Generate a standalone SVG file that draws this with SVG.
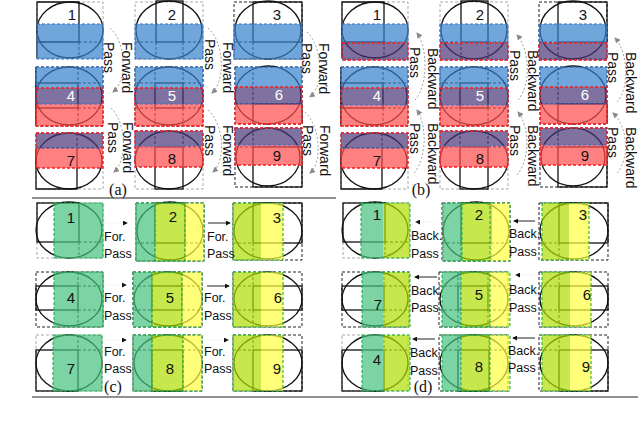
<svg xmlns="http://www.w3.org/2000/svg" width="640" height="421" viewBox="0 0 640 421">
<style>
.bg{fill:none;stroke:#a8a8a8;stroke-width:1;stroke-dasharray:3 2}
.bk{fill:none;stroke:#222;stroke-width:1;stroke-dasharray:3 2}
.sol{fill:none;stroke:#111;stroke-width:1.3}
.dsh{fill:none;stroke:#222;stroke-width:1;stroke-dasharray:3 2}
.ell{fill:none;stroke:#111;stroke-width:1.3}
.fb{fill:rgb(51,128,202);fill-opacity:.7}
.fp{fill:rgb(74,54,119);fill-opacity:.7}
.fr{fill:rgb(255,74,74);fill-opacity:.7}
.fg{fill:rgb(69,194,126);fill-opacity:.7}
.fyg{fill:rgb(174,222,0);fill-opacity:.7}
.fy{fill:rgb(255,255,65);fill-opacity:.7}
.ob{fill:none;stroke:#3b6fc6;stroke-width:1.1;stroke-dasharray:3 2}
.or{fill:none;stroke:#ff1a1a;stroke-width:1.3;stroke-dasharray:3 2}
.og{fill:none;stroke:#1fae4c;stroke-width:1.1;stroke-dasharray:3 2}
.num{font-family:"Liberation Sans",Arial,sans-serif;font-size:15px;text-anchor:middle;fill:#111}
.wn{fill:#fff}
.rl{font-family:"Liberation Sans",Arial,sans-serif;font-size:14px;fill:#111}
.hl{font-family:"Liberation Sans",Arial,sans-serif;font-size:12.5px;fill:#111}
.pl{font-family:"Liberation Serif","Times New Roman",serif;font-size:16px;text-anchor:middle;fill:#111}
.arc{fill:none;stroke:#9a9a9a;stroke-width:.9;stroke-dasharray:2 2}
.ar{fill:none;stroke:#222;stroke-width:1}
.arf{fill:none;stroke:#eee;stroke-width:.6}
.rule{stroke:#222;stroke-width:1.2}
</style>
<defs>
<marker id="mg" viewBox="0 0 6 6" refX="5" refY="3" markerWidth="6" markerHeight="6" orient="auto" markerUnits="userSpaceOnUse"><path d="M0,0L6,3L0,6Z" fill="#8a8a8a"/></marker>
<marker id="mk" viewBox="0 0 6 6" refX="5" refY="3" markerWidth="5" markerHeight="5" orient="auto" markerUnits="userSpaceOnUse"><path d="M0,0L6,3L0,6Z" fill="#111"/></marker>
<g id="ga1"><rect class="bg" x="37" y="2" width="66" height="56"/><path class="sol" d="M37,58V2H79V42H37"/><path class="dsh" d="M79,42V58M79,42H103"/><ellipse class="ell" cx="70" cy="30" rx="33" ry="28"/></g>
<g id="ga2"><rect class="bg" x="135" y="2" width="68" height="57"/><rect class="sol" x="156" y="1" width="27" height="41"/><path class="dsh" d="M156,42V59M183,42V59M135,42H156M183,42H203"/><ellipse class="ell" cx="169" cy="30" rx="33" ry="29"/></g>
<g id="ga3"><rect class="bk" x="234" y="2" width="68" height="57"/><rect class="sol" x="253" y="2" width="49" height="40"/><path class="dsh" d="M253,42V59M234,42H253"/><ellipse class="ell" cx="268" cy="30" rx="33" ry="29"/></g>
<g id="ga4"><rect class="bk" x="36" y="67" width="67" height="59"/><rect class="sol" x="36" y="83" width="42" height="25"/><path class="sol" d="M36,67V126"/><path class="dsh" d="M78,67V83M78,108V126M78,83H103M78,108H103"/><ellipse class="ell" cx="69" cy="96" rx="33" ry="29"/></g>
<g id="ga5"><rect class="bk" x="135" y="67" width="68" height="59"/><rect class="sol" x="155" y="83" width="28" height="25"/><path class="dsh" d="M155,67V83M155,108V126M183,67V83M183,108V126M135,83H155M183,83H203M135,108H155M183,108H203"/><ellipse class="ell" cx="169" cy="96" rx="34" ry="29"/></g>
<g id="ga6"><rect class="bk" x="235" y="67" width="67" height="57"/><path class="sol" d="M253,124V104H302V124"/><path class="dsh" d="M253,67V104M235,104H253"/><ellipse class="ell" cx="268" cy="95" rx="33" ry="29"/></g>
<g id="ga7"><rect class="bg" x="36" y="133" width="67" height="56"/><path class="sol" d="M36,148V189H77V148"/><path class="dsh" d="M77,133V148M36,148H103"/><ellipse class="ell" cx="69" cy="161" rx="33" ry="28"/></g>
<g id="ga8"><rect class="bg" x="135" y="131" width="68" height="58"/><rect class="sol" x="155" y="147" width="28" height="42"/><path class="dsh" d="M155,131V147M183,131V147M135,147H155M183,147H203"/><ellipse class="ell" cx="169" cy="160" rx="34" ry="29"/></g>
<g id="ga9"><rect class="bk" x="235" y="128" width="67" height="59"/><rect class="sol" x="253" y="147" width="49" height="40"/><path class="dsh" d="M253,128V147M235,147H253"/><ellipse class="ell" cx="268" cy="157" rx="32" ry="29"/></g>
<g id="gc11"><rect class="bg" x="37" y="203" width="66" height="55"/><rect class="sol" x="37" y="203" width="42" height="39"/><path class="dsh" d="M79,242V258M79,242H103"/><ellipse class="ell" cx="69" cy="230" rx="33" ry="28"/></g>
<g id="gc12"><rect class="bk" x="136" y="203" width="68" height="58"/><rect class="sol" x="155" y="203" width="30" height="40"/><path class="dsh" d="M155,243V261M185,243V261M136,243H155M185,243H204"/><ellipse class="ell" cx="170" cy="231" rx="33" ry="29"/></g>
<g id="gc13"><rect class="bk" x="233" y="203" width="69" height="57"/><rect class="sol" x="253" y="203" width="49" height="40"/><path class="dsh" d="M253,243V260M233,243H253"/><ellipse class="ell" cx="268" cy="231" rx="34" ry="28"/></g>
<g id="gc21"><rect class="bk" x="36" y="272" width="67" height="55"/><rect class="sol" x="36" y="286" width="42" height="24"/><path class="dsh" d="M78,272V286M78,310V327M78,286H103M78,310H103"/><ellipse class="ell" cx="69" cy="299" rx="33" ry="27"/></g>
<g id="gc22"><rect class="bk" x="133" y="272" width="69" height="55"/><rect class="sol" x="152" y="286" width="30" height="24"/><path class="dsh" d="M152,272V286M152,310V327M182,272V286M182,310V327M133,286H152M182,286H202M133,310H152M182,310H202"/><ellipse class="ell" cx="168" cy="299" rx="34" ry="27"/></g>
<g id="gc23"><rect class="bk" x="233" y="272" width="69" height="55"/><rect class="sol" x="253" y="286" width="49" height="24"/><path class="dsh" d="M253,272V286M253,310V327M233,286H253M233,310H253"/><ellipse class="ell" cx="268" cy="299" rx="34" ry="27"/></g>
<g id="gc31"><rect class="bg" x="36" y="335" width="66" height="56"/><rect class="sol" x="36" y="350" width="42" height="41"/><path class="dsh" d="M78,335V350M78,350H102"/><ellipse class="ell" cx="69" cy="363" rx="33" ry="28"/></g>
<g id="gc32"><rect class="bk" x="133" y="335" width="69" height="56"/><rect class="sol" x="152" y="350" width="31" height="41"/><path class="dsh" d="M152,335V350M183,335V350M133,350H152M183,350H202"/><ellipse class="ell" cx="168" cy="363" rx="34" ry="28"/></g>
<g id="gc33"><rect class="bk" x="233" y="335" width="69" height="56"/><rect class="sol" x="253" y="350" width="49" height="41"/><path class="dsh" d="M253,335V350M233,350H253"/><ellipse class="ell" cx="268" cy="363" rx="34" ry="28"/></g>
</defs>
<rect width="640" height="421" fill="#fff"/>

<g id="a-tile1"><use href="#ga1"/><rect class="fb" x="37" y="24" width="66" height="35"/><rect class="ob" x="37" y="24" width="66" height="35"/><text class="num" x="72" y="20">1</text></g>
<g id="a-tile2"><use href="#ga2"/><rect class="fb" x="135" y="24" width="68" height="35"/><rect class="ob" x="135" y="24" width="68" height="35"/><text class="num" x="172" y="20">2</text></g>
<g id="a-tile3"><use href="#ga3"/><rect class="fb" x="234" y="24" width="68" height="35"/><rect class="ob" x="234" y="24" width="68" height="35"/><text class="num" x="277" y="20">3</text></g>
<g id="a-tile4"><use href="#ga4"/><rect class="fb" x="36" y="67" width="67" height="21"/><rect class="fp" x="36" y="88" width="67" height="16"/><rect class="fr" x="36" y="104" width="67" height="22"/><rect class="ob" x="36" y="67" width="67" height="37"/><rect class="or" x="36" y="88" width="67" height="38"/><text class="num wn" x="71" y="101">4</text></g>
<g id="a-tile5"><use href="#ga5"/><rect class="fb" x="135" y="67" width="68" height="21"/><rect class="fp" x="135" y="88" width="68" height="16"/><rect class="fr" x="135" y="104" width="68" height="22"/><rect class="ob" x="135" y="67" width="68" height="37"/><rect class="or" x="135" y="88" width="68" height="38"/><text class="num wn" x="172" y="101">5</text></g>
<g id="a-tile6"><use href="#ga6"/><rect class="fb" x="235" y="67" width="67" height="20"/><rect class="fp" x="235" y="87" width="67" height="17"/><rect class="fr" x="235" y="104" width="67" height="20"/><rect class="ob" x="235" y="67" width="67" height="37"/><rect class="or" x="235" y="87" width="67" height="37"/><text class="num wn" x="279" y="100">6</text></g>
<g id="a-tile7"><use href="#ga7"/><rect class="fp" x="36" y="133" width="67" height="15"/><rect class="fr" x="36" y="148" width="67" height="20"/><rect class="ob" x="36" y="133" width="67" height="15"/><rect class="or" x="36" y="133" width="67" height="35"/><text class="num" x="71" y="166">7</text></g>
<g id="a-tile8"><use href="#ga8"/><rect class="fp" x="135" y="131" width="68" height="15"/><rect class="fr" x="135" y="146" width="68" height="21"/><rect class="ob" x="135" y="131" width="68" height="15"/><rect class="or" x="135" y="131" width="68" height="36"/><text class="num" x="172" y="164">8</text></g>
<g id="a-tile9"><use href="#ga9"/><rect class="fp" x="235" y="128" width="67" height="17"/><rect class="fr" x="235" y="145" width="67" height="20"/><rect class="ob" x="235" y="128" width="67" height="17"/><rect class="or" x="235" y="128" width="67" height="37"/><text class="num" x="277" y="161">9</text></g>

<g id="b-tile1" transform="translate(305,0)"><use href="#ga1"/><rect class="fb" x="37" y="24" width="66" height="19"/><rect class="fp" x="37" y="43" width="66" height="17"/><rect class="ob" x="37" y="24" width="66" height="36"/><rect class="or" x="37" y="43" width="66" height="17"/><text class="num" x="72" y="20">1</text></g>
<g id="b-tile2" transform="translate(305,0)"><use href="#ga2"/><rect class="fb" x="135" y="24" width="68" height="19"/><rect class="fp" x="135" y="43" width="68" height="17"/><rect class="ob" x="135" y="24" width="68" height="36"/><rect class="or" x="135" y="43" width="68" height="17"/><text class="num" x="175" y="20">2</text></g>
<g id="b-tile3" transform="translate(305,0)"><use href="#ga3"/><rect class="fb" x="234" y="24" width="68" height="19"/><rect class="fp" x="234" y="43" width="68" height="17"/><rect class="ob" x="234" y="24" width="68" height="36"/><rect class="or" x="234" y="43" width="68" height="17"/><text class="num" x="278" y="20">3</text></g>
<g id="b-tile4" transform="translate(305,0)"><use href="#ga4"/><rect class="fb" x="36" y="67" width="67" height="21"/><rect class="fp" x="36" y="88" width="67" height="17"/><rect class="fr" x="36" y="105" width="67" height="21"/><rect class="ob" x="36" y="67" width="67" height="38"/><rect class="or" x="36" y="88" width="67" height="38"/><text class="num wn" x="72" y="101">4</text></g>
<g id="b-tile5" transform="translate(305,0)"><use href="#ga5"/><rect class="fb" x="135" y="67" width="68" height="21"/><rect class="fp" x="135" y="88" width="68" height="17"/><rect class="fr" x="135" y="105" width="68" height="21"/><rect class="ob" x="135" y="67" width="68" height="38"/><rect class="or" x="135" y="88" width="68" height="38"/><text class="num wn" x="175" y="101">5</text></g>
<g id="b-tile6" transform="translate(305,0)"><use href="#ga6"/><rect class="fb" x="235" y="67" width="67" height="20"/><rect class="fp" x="235" y="87" width="67" height="17"/><rect class="fr" x="235" y="104" width="67" height="20"/><rect class="ob" x="235" y="67" width="67" height="37"/><rect class="or" x="235" y="87" width="67" height="37"/><text class="num wn" x="280" y="100">6</text></g>
<g id="b-tile7" transform="translate(305,0)"><use href="#ga7"/><rect class="fp" x="36" y="133" width="67" height="15"/><rect class="fr" x="36" y="148" width="67" height="20"/><rect class="ob" x="36" y="133" width="67" height="15"/><rect class="or" x="36" y="133" width="67" height="35"/><text class="num" x="72" y="166">7</text></g>
<g id="b-tile8" transform="translate(305,0)"><use href="#ga8"/><rect class="fp" x="135" y="131" width="68" height="15"/><rect class="fr" x="135" y="146" width="68" height="21"/><rect class="ob" x="135" y="131" width="68" height="15"/><rect class="or" x="135" y="131" width="68" height="36"/><text class="num" x="175" y="164">8</text></g>
<g id="b-tile9" transform="translate(305,0)"><use href="#ga9"/><rect class="fp" x="235" y="128" width="67" height="17"/><rect class="fr" x="235" y="145" width="67" height="20"/><rect class="ob" x="235" y="128" width="67" height="17"/><rect class="or" x="235" y="128" width="67" height="37"/><text class="num" x="280" y="161">9</text></g>

<g id="c-tile1"><use href="#gc11"/><rect class="fg" x="54" y="203" width="49" height="55"/><rect class="og" x="54" y="203" width="49" height="55"/><text class="num" x="71" y="223">1</text></g>
<g id="c-tile2"><use href="#gc12"/><rect class="fg" x="136" y="203" width="19" height="58"/><rect class="fyg" x="155" y="203" width="30" height="58"/><rect class="fy" x="185" y="203" width="19" height="58"/><rect class="og" x="136" y="203" width="49" height="58"/><rect class="og" x="155" y="203" width="49" height="58"/><text class="num" x="173" y="222">2</text></g>
<g id="c-tile3"><use href="#gc13"/><rect class="fyg" x="233" y="203" width="28" height="57"/><rect class="fy" x="261" y="203" width="22" height="57"/><rect class="og" x="233" y="203" width="50" height="57"/><text class="num" x="277" y="223">3</text></g>
<g id="c-tile4"><use href="#gc21"/><rect class="fg" x="54" y="272" width="49" height="55"/><rect class="og" x="54" y="272" width="49" height="55"/><text class="num" x="71" y="303">4</text></g>
<g id="c-tile5"><use href="#gc22"/><rect class="fg" x="133" y="272" width="19" height="55"/><rect class="fyg" x="152" y="272" width="30" height="55"/><rect class="fy" x="182" y="272" width="20" height="55"/><rect class="og" x="133" y="272" width="49" height="55"/><rect class="og" x="152" y="272" width="50" height="55"/><text class="num" x="170" y="303">5</text></g>
<g id="c-tile6"><use href="#gc23"/><rect class="fyg" x="233" y="272" width="28" height="55"/><rect class="fy" x="261" y="272" width="22" height="55"/><rect class="og" x="233" y="272" width="50" height="55"/><text class="num" x="278" y="303">6</text></g>
<g id="c-tile7"><use href="#gc31"/><rect class="fg" x="53" y="335" width="49" height="56"/><rect class="og" x="53" y="335" width="49" height="56"/><text class="num" x="71" y="374">7</text></g>
<g id="c-tile8"><use href="#gc32"/><rect class="fg" x="133" y="335" width="19" height="56"/><rect class="fyg" x="152" y="335" width="31" height="56"/><rect class="fy" x="183" y="335" width="19" height="56"/><rect class="og" x="133" y="335" width="50" height="56"/><rect class="og" x="152" y="335" width="50" height="56"/><text class="num" x="170" y="374">8</text></g>
<g id="c-tile9"><use href="#gc33"/><rect class="fyg" x="233" y="335" width="28" height="56"/><rect class="fy" x="261" y="335" width="22" height="56"/><rect class="og" x="233" y="335" width="50" height="56"/><text class="num" x="277" y="374">9</text></g>

<g id="d-tile1" transform="translate(306,0)"><use href="#gc11"/><rect class="fg" x="55" y="203" width="22" height="55"/><rect class="fyg" x="77" y="203" width="27" height="55"/><rect class="og" x="55" y="203" width="49" height="55"/><text class="num" x="71" y="220">1</text></g>
<g id="d-tile2" transform="translate(306,0)"><use href="#gc12"/><rect class="fg" x="137" y="203" width="19" height="58"/><rect class="fyg" x="156" y="203" width="28" height="58"/><rect class="fy" x="184" y="203" width="20" height="58"/><rect class="og" x="137" y="203" width="47" height="58"/><rect class="og" x="156" y="203" width="48" height="58"/><text class="num" x="173" y="220">2</text></g>
<g id="d-tile3" transform="translate(306,0)"><use href="#gc13"/><rect class="fyg" x="236" y="203" width="27" height="57"/><rect class="fy" x="263" y="203" width="20" height="57"/><rect class="og" x="236" y="203" width="47" height="57"/><text class="num" x="277" y="220">3</text></g>
<g id="d-tile7" transform="translate(306,0)"><use href="#gc21"/><rect class="fg" x="56" y="272" width="21" height="55"/><rect class="fyg" x="77" y="272" width="27" height="55"/><rect class="og" x="56" y="272" width="48" height="55"/><text class="num" x="72" y="310">7</text></g>
<g id="d-tile5" transform="translate(306,0)"><use href="#gc22"/><rect class="fg" x="136" y="272" width="19" height="55"/><rect class="fyg" x="155" y="272" width="29" height="55"/><rect class="fy" x="184" y="272" width="20" height="55"/><rect class="og" x="136" y="272" width="48" height="55"/><rect class="og" x="155" y="272" width="49" height="55"/><text class="num" x="173" y="300">5</text></g>
<g id="d-tile6" transform="translate(306,0)"><use href="#gc23"/><rect class="fyg" x="236" y="272" width="28" height="55"/><rect class="fy" x="264" y="272" width="21" height="55"/><rect class="og" x="236" y="272" width="49" height="55"/><text class="num" x="281" y="300">6</text></g>
<g id="d-tile4" transform="translate(306,0)"><use href="#gc31"/><rect class="fg" x="56" y="335" width="21" height="56"/><rect class="fyg" x="77" y="335" width="27" height="56"/><rect class="og" x="56" y="335" width="48" height="56"/><text class="num" x="71" y="365">4</text></g>
<g id="d-tile8" transform="translate(306,0)"><use href="#gc32"/><rect class="fg" x="136" y="335" width="19" height="56"/><rect class="fyg" x="155" y="335" width="29" height="56"/><rect class="fy" x="184" y="335" width="20" height="56"/><rect class="og" x="136" y="335" width="48" height="56"/><rect class="og" x="155" y="335" width="49" height="56"/><text class="num" x="173" y="372">8</text></g>
<g id="d-tile9" transform="translate(306,0)"><use href="#gc33"/><rect class="fyg" x="236" y="335" width="28" height="56"/><rect class="fy" x="264" y="335" width="21" height="56"/><rect class="og" x="236" y="335" width="49" height="56"/><text class="num" x="280" y="372">9</text></g>

<g id="connectors">
<path class="arc" d="M110,28C126,42 128,80 113,92" marker-end="url(#mg)"/>
<path class="arc" d="M111,108C126,122 128,160 114,172" marker-end="url(#mg)"/>
<path class="arc" d="M208,28C224,42 226,80 212,93" marker-end="url(#mg)"/>
<path class="arc" d="M208,110C224,124 226,160 213,172" marker-end="url(#mg)"/>
<path class="arc" d="M307,32C322,46 325,85 310,97" marker-end="url(#mg)"/>
<path class="arc" d="M305,112C320,126 323,162 310,173" marker-end="url(#mg)"/>
<path class="arc" d="M415,100C428,86 428,48 417,33" marker-end="url(#mg)"/>
<path class="arc" d="M414,173C427,158 427,125 417,110" marker-end="url(#mg)"/>
<path class="arc" d="M518,100C531,86 530,50 517,35" marker-end="url(#mg)"/>
<path class="arc" d="M517,175C530,160 530,127 518,112" marker-end="url(#mg)"/>
<path class="arc" d="M617,102C630,88 628,52 615,38" marker-end="url(#mg)"/>
<path class="arc" d="M617,173C630,158 628,127 613,113" marker-end="url(#mg)"/>
<line class="arf" x1="106" y1="223" x2="127" y2="223" marker-end="url(#mk)"/>
<line class="ar" x1="208" y1="223" x2="230" y2="223" marker-end="url(#mk)"/>
<line class="arf" x1="105" y1="285" x2="126" y2="285" marker-end="url(#mk)"/>
<line class="ar" x1="207" y1="286" x2="229" y2="286" marker-end="url(#mk)"/>
<line class="arf" x1="105" y1="340" x2="126" y2="340" marker-end="url(#mk)"/>
<line class="arf" x1="207" y1="340" x2="228" y2="340" marker-end="url(#mk)"/>
<line class="arf" x1="437" y1="222" x2="416" y2="222" marker-end="url(#mk)"/>
<line class="ar" x1="535" y1="221" x2="514" y2="221" marker-end="url(#mk)"/>
<line class="ar" x1="437" y1="277" x2="415" y2="277" marker-end="url(#mk)"/>
<line class="arf" x1="537" y1="275" x2="516" y2="275" marker-end="url(#mk)"/>
<line class="ar" x1="435" y1="339" x2="413" y2="339" marker-end="url(#mk)"/>
<line class="ar" x1="535" y1="338" x2="513" y2="338" marker-end="url(#mk)"/>
</g>

<g id="labels-a">
<text class="rl" transform="translate(104,42) rotate(90)">Pass</text>
<text class="rl" transform="translate(122,42) rotate(90)">Forward</text>
<text class="rl" transform="translate(108,122) rotate(90)">Pass</text>
<text class="rl" transform="translate(123,122) rotate(90)">Forward</text>
<text class="rl" transform="translate(205,39) rotate(90)">Pass</text>
<text class="rl" transform="translate(223,42) rotate(90)">Forward</text>
<text class="rl" transform="translate(205,125) rotate(90)">Pass</text>
<text class="rl" transform="translate(223,125) rotate(90)">Forward</text>
<text class="rl" transform="translate(302,43) rotate(90)">Pass</text>
<text class="rl" transform="translate(319,43) rotate(90)">Forward</text>
<text class="rl" transform="translate(303,125) rotate(90)">Pass</text>
<text class="rl" transform="translate(320,125) rotate(90)">Forward</text>
<text class="pl" x="118" y="195">(a)</text>
</g>
<g id="labels-b">
<text class="rl" transform="translate(410,47) rotate(90)">Pass</text>
<text class="rl" transform="translate(428,48) rotate(90)">Backward</text>
<text class="rl" transform="translate(410,123) rotate(90)">Pass</text>
<text class="rl" transform="translate(428,123) rotate(90)">Backward</text>
<text class="rl" transform="translate(510,50) rotate(90)">Pass</text>
<text class="rl" transform="translate(528,50) rotate(90)">Backward</text>
<text class="rl" transform="translate(510,125) rotate(90)">Pass</text>
<text class="rl" transform="translate(528,125) rotate(90)">Backward</text>
<text class="rl" transform="translate(608,52) rotate(90)">Pass</text>
<text class="rl" transform="translate(626,52) rotate(90)">Backward</text>
<text class="rl" transform="translate(608,127) rotate(90)">Pass</text>
<text class="rl" transform="translate(626,127) rotate(90)">Backward</text>
<text class="pl" x="421" y="195">(b)</text>
</g>
<g id="labels-c">
<text class="hl" x="104" y="241">For.</text><text class="hl" x="104" y="258">Pass</text>
<text class="hl" x="207" y="241">For.</text><text class="hl" x="207" y="258">Pass</text>
<text class="hl" x="104" y="302">For.</text><text class="hl" x="104" y="320">Pass</text>
<text class="hl" x="204" y="302">For.</text><text class="hl" x="204" y="320">Pass</text>
<text class="hl" x="104" y="356">For.</text><text class="hl" x="104" y="373">Pass</text>
<text class="hl" x="204" y="356">For.</text><text class="hl" x="204" y="373">Pass</text>
<text class="pl" x="113" y="392">(c)</text>
</g>
<g id="labels-d">
<text class="hl" x="411" y="240">Back.</text><text class="hl" x="411" y="258">Pass</text>
<text class="hl" x="509" y="238">Back.</text><text class="hl" x="509" y="256">Pass</text>
<text class="hl" x="411" y="295">Back.</text><text class="hl" x="411" y="312">Pass</text>
<text class="hl" x="509" y="294">Back.</text><text class="hl" x="509" y="312">Pass</text>
<text class="hl" x="410" y="357">Back.</text><text class="hl" x="410" y="375">Pass</text>
<text class="hl" x="508" y="355">Back.</text><text class="hl" x="508" y="372">Pass</text>
<text class="pl" x="423" y="392">(d)</text>
</g>

<g id="rules">
<line class="rule" x1="32" y1="198" x2="336" y2="198"/>
<line class="rule" x1="32" y1="397" x2="638" y2="397"/>
</g>
</svg>
